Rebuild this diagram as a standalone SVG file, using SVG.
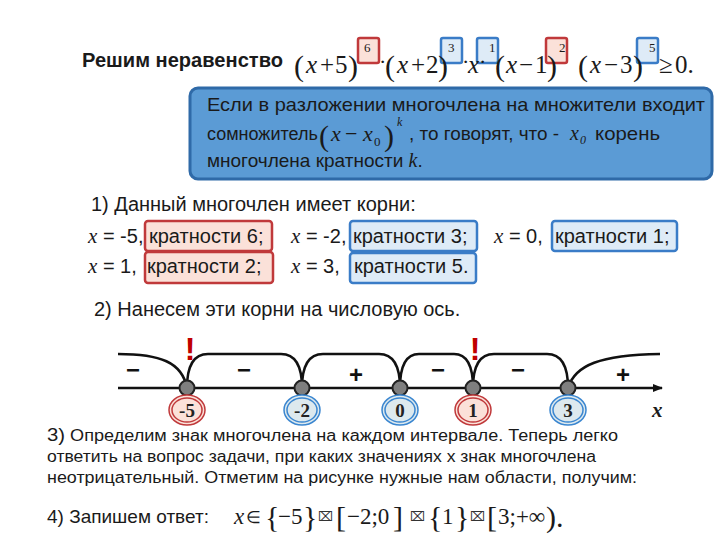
<svg xmlns="http://www.w3.org/2000/svg" width="720" height="540" viewBox="0 0 720 540">
<style>
.s{font-family:"Liberation Sans",Arial,sans-serif;fill:#1a1a1a}
.m{font-family:"Liberation Serif","Times New Roman",serif;fill:#1a1a1a}
.i{font-style:italic}
.p{font-family:"Liberation Serif","Times New Roman",serif;fill:#1a1a1a;font-size:30px}
.rb{fill:#fbe1d9;stroke:#c0393b;stroke-width:2.5}
.bb{fill:#deebf7;stroke:#3a7cc7;stroke-width:2.5}
.ln{fill:none;stroke:#111;stroke-width:2.5}
.dot{fill:#7f7f7f;stroke:#222;stroke-width:2}
.sg{font-family:"Liberation Sans",Arial,sans-serif;font-weight:bold;font-size:24px;fill:#111;text-anchor:middle}
.ex{font-family:"Liberation Sans",Arial,sans-serif;font-weight:bold;font-size:32px;fill:#c00000;text-anchor:middle}
.lb{font-family:"Liberation Serif","Times New Roman",serif;font-weight:bold;font-size:19px;fill:#222;text-anchor:middle}
.ro{stroke-width:1.5}
.tofu{font-family:"DejaVu Sans",sans-serif;font-size:13px;fill:#333}
.row{font-family:"Liberation Sans",Arial,sans-serif;fill:#1a1a1a;font-size:20px}
</style>
<defs>
<marker id="arr" markerWidth="10" markerHeight="8" refX="9" refY="4" orient="auto" markerUnits="userSpaceOnUse">
<path d="M0,0 L10,4 L0,8 Z" fill="#111"/>
</marker>
</defs>

<g id="title">
<text class="s" x="82" y="67" font-size="20" font-weight="bold" textLength="201" lengthAdjust="spacingAndGlyphs">Решим неравенство</text>
</g>

<g id="inequality">
<rect class="rb" x="358" y="38" width="21" height="25" rx="2"/>
<rect class="bb" x="441" y="38" width="21" height="25" rx="2"/>
<rect class="bb" x="477" y="38" width="21" height="25" rx="2"/>
<rect class="rb" x="546" y="38" width="21" height="25" rx="2"/>
<rect class="bb" x="637" y="38" width="21" height="25" rx="2"/>
<text class="p" x="294" y="76">(</text>
<text class="m i" x="306" y="73" font-size="25">x</text>
<text class="m" x="320" y="73" font-size="25">+</text>
<text class="m" x="335" y="73" font-size="25">5</text>
<text class="p" x="348" y="76">)</text>
<text class="m" x="364" y="52" font-size="13">6</text>
<text class="m" x="379" y="69" font-size="22">·</text>
<text class="p" x="385" y="76">(</text>
<text class="m i" x="397" y="73" font-size="25">x</text>
<text class="m" x="411" y="73" font-size="25">+</text>
<text class="m" x="426" y="73" font-size="25">2</text>
<text class="p" x="438" y="76">)</text>
<text class="m" x="448" y="52" font-size="13">3</text>
<text class="m" x="462" y="69" font-size="22">·</text>
<text class="m i" x="468" y="73" font-size="25">x</text>
<text class="m" x="479" y="69" font-size="22">·</text>
<text class="m" x="489" y="52" font-size="13">1</text>
<text class="p" x="495" y="76">(</text>
<text class="m i" x="506" y="73" font-size="25">x</text>
<text class="m" x="519" y="73" font-size="25">−</text>
<text class="m" x="535" y="73" font-size="25">1</text>
<text class="p" x="547" y="76">)</text>
<text class="m" x="559" y="52" font-size="13">2</text>
<text class="p" x="578" y="76">(</text>
<text class="m i" x="590" y="73" font-size="25">x</text>
<text class="m" x="604" y="73" font-size="25">−</text>
<text class="m" x="620" y="73" font-size="25">3</text>
<text class="p" x="633" y="76">)</text>
<text class="m" x="649" y="52" font-size="13">5</text>
<text class="m" x="659" y="73" font-size="25">≥</text>
<text class="m" x="675" y="73" font-size="25">0.</text>
</g>

<g id="definition">
<rect x="190" y="88" width="522" height="91" rx="8" fill="#5b9bd5" stroke="#2f6aa8" stroke-width="3"/>
<text class="s" x="207" y="111" font-size="19" textLength="498" lengthAdjust="spacingAndGlyphs">Если в разложении многочлена на множители входит</text>
<text class="s" x="207" y="140" font-size="18">сомножитель</text>
<text class="p" x="319" y="146">(</text>
<text class="m i" x="331" y="141" font-size="22">x</text>
<text class="m" x="345" y="141" font-size="22">−</text>
<text class="m i" x="363" y="141" font-size="22">x</text>
<text class="m" x="374" y="146" font-size="13">0</text>
<text class="p" x="384" y="146">)</text>
<text class="m i" x="397" y="126" font-size="12">k</text>
<text class="s" x="409" y="140" font-size="19" textLength="150" lengthAdjust="spacingAndGlyphs">, то говорят, что  - </text>
<text class="m i" x="570" y="140" font-size="20">x</text>
<text class="m i" x="580" y="144" font-size="12">0</text>
<text class="s" x="595" y="140" font-size="19" textLength="65" lengthAdjust="spacingAndGlyphs">корень</text>
<text class="s" x="207" y="167" font-size="19">многочлена кратности <tspan class="m i" font-size="20">k</tspan>.</text>
</g>

<g id="roots">
<text class="s" x="91" y="211" font-size="20">1)   Данный многочлен имеет корни:</text>
<rect class="rb" x="145" y="221" width="127" height="30" rx="3"/>
<rect class="bb" x="350" y="221" width="127" height="30" rx="3"/>
<rect class="bb" x="552" y="221" width="125" height="30" rx="3"/>
<rect class="rb" x="145" y="252" width="128" height="31" rx="3"/>
<rect class="bb" x="350" y="253" width="126" height="30" rx="3"/>
<text class="row" x="88" y="243"><tspan class="m i" font-size="21">x</tspan> = -5,<tspan x="149">кратности 6;</tspan></text>
<text class="row" x="291" y="243"><tspan class="m i" font-size="21">x</tspan> = -2,<tspan x="353">кратности 3;</tspan></text>
<text class="row" x="494" y="243"><tspan class="m i" font-size="21">x</tspan> = 0,<tspan x="555">кратности 1;</tspan></text>
<text class="row" x="88" y="273"><tspan class="m i" font-size="21">x</tspan> = 1,<tspan x="147">кратности 2;</tspan></text>
<text class="row" x="291" y="273"><tspan class="m i" font-size="21">x</tspan> = 3,<tspan x="354">кратности 5.</tspan></text>
</g>

<g id="step2">
<text class="s" x="94" y="316" font-size="20">2)   Нанесем эти корни на числовую ось.</text>
</g>

<g id="connectors">
<line class="ln" x1="118" y1="388" x2="662" y2="388" marker-end="url(#arr)"/>
<path class="ln" d="M118,354 C160,354 182,362 187,388"/>
<path class="ln" d="M187,388 C187,366 193,354 208,354 L281,354 C296,354 302,366 302,388"/>
<path class="ln" d="M302,388 C302,366 308,354 323,354 L379,354 C394,354 400,366 400,388"/>
<path class="ln" d="M400,388 C400,366 406,354 419,354 L454,354 C467,354 473,366 473,388"/>
<path class="ln" d="M473,388 C473,366 479,354 494,354 L547,354 C562,354 568,366 568,388"/>
<path class="ln" d="M568,388 C575,365 600,355 660,354"/>
</g>

<g id="signs">
<text class="sg" x="133" y="378">−</text>
<text class="sg" x="244" y="378">−</text>
<text class="sg" x="356" y="383">+</text>
<text class="sg" x="438" y="378">−</text>
<text class="sg" x="518" y="378">−</text>
<text class="sg" x="623" y="383">+</text>
<text class="ex" x="190" y="360">!</text>
<text class="ex" x="475" y="360">!</text>
</g>

<g id="root-m5">
<circle class="dot" cx="187" cy="388" r="7.5"/>
<ellipse cx="187" cy="410" rx="18" ry="15" fill="#fbe1d9" stroke="#c0393b" class="ro"/>
<ellipse cx="187" cy="410" rx="15" ry="12" fill="none" stroke="#c0393b" class="ro"/>
<text class="lb" x="187" y="417">-5</text>
</g>
<g id="root-m2">
<circle class="dot" cx="302" cy="388" r="7.5"/>
<ellipse cx="302" cy="410" rx="18" ry="15" fill="#dde9ee" stroke="#3a86d0" class="ro"/>
<ellipse cx="302" cy="410" rx="15" ry="12" fill="none" stroke="#3a86d0" class="ro"/>
<text class="lb" x="302" y="417">-2</text>
</g>
<g id="root-0">
<circle class="dot" cx="400" cy="388" r="7.5"/>
<ellipse cx="400" cy="410" rx="18" ry="15" fill="#dde9ee" stroke="#3a86d0" class="ro"/>
<ellipse cx="400" cy="410" rx="15" ry="12" fill="none" stroke="#3a86d0" class="ro"/>
<text class="lb" x="400" y="417">0</text>
</g>
<g id="root-1">
<circle class="dot" cx="473" cy="388" r="7.5"/>
<ellipse cx="473" cy="410" rx="18" ry="15" fill="#fbe1d9" stroke="#c0393b" class="ro"/>
<ellipse cx="473" cy="410" rx="15" ry="12" fill="none" stroke="#c0393b" class="ro"/>
<text class="lb" x="473" y="417">1</text>
</g>
<g id="root-3">
<circle class="dot" cx="568" cy="388" r="7.5"/>
<ellipse cx="568" cy="410" rx="18" ry="15" fill="#dde9ee" stroke="#3a86d0" class="ro"/>
<ellipse cx="568" cy="410" rx="15" ry="12" fill="none" stroke="#3a86d0" class="ro"/>
<text class="lb" x="568" y="417">3</text>
</g>
<g id="axis-label">
<text class="m i" x="652" y="417" font-size="21" font-weight="bold">x</text>
</g>

<g id="step3">
<text class="s" x="47" y="441" font-size="16" textLength="571" lengthAdjust="spacingAndGlyphs"><tspan font-size="18">3)</tspan>  Определим знак многочлена на каждом интервале. Теперь легко</text>
<text class="s" x="47" y="462" font-size="16" textLength="549" lengthAdjust="spacingAndGlyphs">ответить на вопрос задачи, при каких значениях x знак многочлена</text>
<text class="s" x="47" y="483" font-size="16" textLength="590" lengthAdjust="spacingAndGlyphs">неотрицательный. Отметим на рисунке нужные нам области, получим:</text>
</g>

<g id="answer">
<text class="s" x="47" y="523" font-size="19">4) Запишем ответ:</text>
<text class="m i" x="234" y="524" font-size="23">x</text>
<text class="m" x="246" y="523" font-size="17">∈</text>
<text class="p" x="265" y="527">{</text>
<text class="m" x="278" y="524" font-size="23">−5</text>
<text class="p" x="303" y="527">}</text>
<text class="tofu" x="318" y="521">⌧</text>
<text class="p" x="336" y="527">[</text>
<text class="m" x="347" y="524" font-size="23">−2;0</text>
<text class="p" x="393" y="527">]</text>
<text class="tofu" x="410" y="521">⌧</text>
<text class="p" x="428" y="527">{</text>
<text class="m" x="442" y="524" font-size="23">1</text>
<text class="p" x="455" y="527">}</text>
<text class="tofu" x="470" y="521">⌧</text>
<text class="p" x="487" y="527">[</text>
<text class="m" x="498" y="524" font-size="23">3;+∞</text>
<text class="p" x="546" y="527">).</text>
</g>
</svg>
